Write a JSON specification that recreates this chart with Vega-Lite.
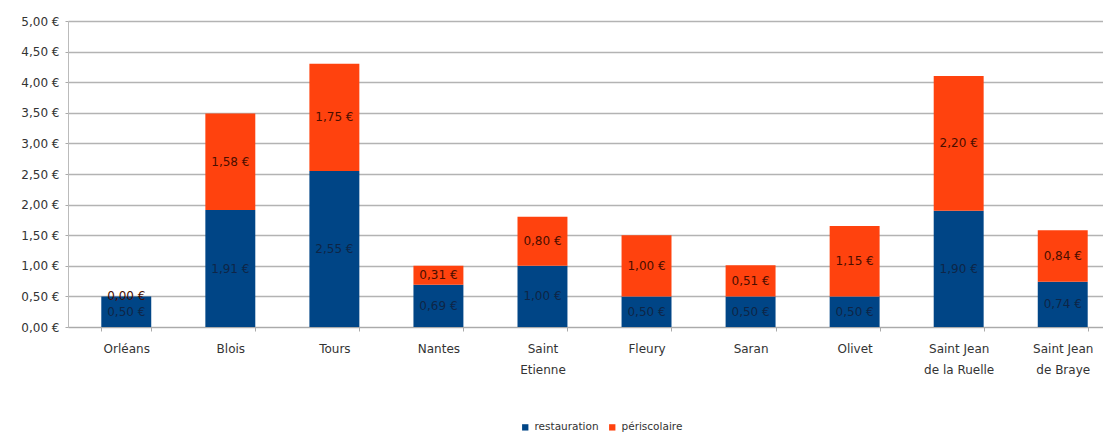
{
  "$schema": "https://vega.github.io/schema/vega-lite/v6.json",
  "width": 1053,
  "height": 306,
  "autosize": {"type": "none"},
  "padding": {"left": 68, "top": 21, "right": 0, "bottom": 105},
  "config": {
    "locale": {"number": {"decimal": ",", "thousands": " ", "grouping": [3], "currency": ["", " €"]}},
    "view": {"stroke": null},
    "font": "DejaVu Sans",
    "axisY": {
      "title": null,
      "values": [0, 0.5, 1, 1.5, 2, 2.5, 3, 3.5, 4, 4.5, 5],
      "format": "$.2f",
      "labelFontSize": 12,
      "labelColor": "#333333",
      "labelPadding": 6,
      "tickSize": 3,
      "tickColor": "#aaaaaa",
      "domainColor": "#bbbbbb",
      "gridColor": "#b3b3b3",
      "gridWidth": 1.5
    }
  },
  "data": {
    "values": [
      {"ville": "Orléans", "poste": "restauration", "valeur": 0.50},
      {"ville": "Orléans", "poste": "périscolaire", "valeur": 0.00},
      {"ville": "Blois", "poste": "restauration", "valeur": 1.91},
      {"ville": "Blois", "poste": "périscolaire", "valeur": 1.58},
      {"ville": "Tours", "poste": "restauration", "valeur": 2.55},
      {"ville": "Tours", "poste": "périscolaire", "valeur": 1.75},
      {"ville": "Nantes", "poste": "restauration", "valeur": 0.69},
      {"ville": "Nantes", "poste": "périscolaire", "valeur": 0.31},
      {"ville": "Saint Etienne", "poste": "restauration", "valeur": 1.00},
      {"ville": "Saint Etienne", "poste": "périscolaire", "valeur": 0.80},
      {"ville": "Fleury", "poste": "restauration", "valeur": 0.50},
      {"ville": "Fleury", "poste": "périscolaire", "valeur": 1.00},
      {"ville": "Saran", "poste": "restauration", "valeur": 0.50},
      {"ville": "Saran", "poste": "périscolaire", "valeur": 0.51},
      {"ville": "Olivet", "poste": "restauration", "valeur": 0.50},
      {"ville": "Olivet", "poste": "périscolaire", "valeur": 1.15},
      {"ville": "Saint Jean de la Ruelle", "poste": "restauration", "valeur": 1.90},
      {"ville": "Saint Jean de la Ruelle", "poste": "périscolaire", "valeur": 2.20},
      {"ville": "Saint Jean de Braye", "poste": "restauration", "valeur": 0.74},
      {"ville": "Saint Jean de Braye", "poste": "périscolaire", "valeur": 0.84}
    ]
  },
  "encoding": {
    "x": {
      "field": "ville",
      "type": "nominal",
      "sort": null,
      "scale": {"paddingInner": 0.52, "paddingOuter": 0.32},
      "axis": {
        "title": null,
        "labelAngle": 0,
        "labelFontSize": 12,
        "labelColor": "#333333",
        "labelPadding": 12,
        "labelLineHeight": 21,
        "labelBaseline": "top",
        "tickBand": "extent",
        "tickSize": 4,
        "tickColor": "#aaaaaa",
        "domainColor": "#aaaaaa",
        "labelExpr": "datum.value == 'Saint Etienne' ? ['Saint', 'Etienne'] : datum.value == 'Saint Jean de la Ruelle' ? ['Saint Jean', 'de la Ruelle'] : datum.value == 'Saint Jean de Braye' ? ['Saint Jean', 'de Braye'] : datum.label"
      }
    }
  },
  "layer": [
    {
      "mark": {"type": "bar"},
      "encoding": {
        "y": {
          "field": "valeur",
          "type": "quantitative",
          "stack": "zero",
          "title": null,
          "scale": {"domain": [0, 5], "nice": false}
        },
        "color": {
          "field": "poste",
          "type": "nominal",
          "scale": {"domain": ["restauration", "périscolaire"], "range": ["#004586", "#ff420e"]},
          "legend": {
            "title": null,
            "orient": "none",
            "legendX": 452,
            "legendY": 401,
            "direction": "horizontal",
            "symbolType": "square",
            "symbolSize": 40,
            "symbolStrokeWidth": 0,
            "labelFontSize": 10.5,
            "labelColor": "#333333",
            "columnPadding": 8
          }
        },
        "order": {"field": "poste", "sort": "descending"}
      }
    },
    {
      "transform": [
        {"stack": "valeur", "groupby": ["ville"], "sort": [{"field": "poste", "order": "descending"}], "as": ["v0", "v1"]},
        {"calculate": "(datum.v0 + datum.v1) / 2", "as": "vmid"}
      ],
      "mark": {"type": "text", "fontSize": 12},
      "encoding": {
        "y": {"field": "vmid", "type": "quantitative", "title": null},
        "text": {"field": "valeur", "type": "quantitative", "format": "$.2f"},
        "color": {"condition": {"test": "datum.poste == 'restauration'", "value": "#0e2547"}, "value": "#4a0e00"}
      }
    }
  ]
}
